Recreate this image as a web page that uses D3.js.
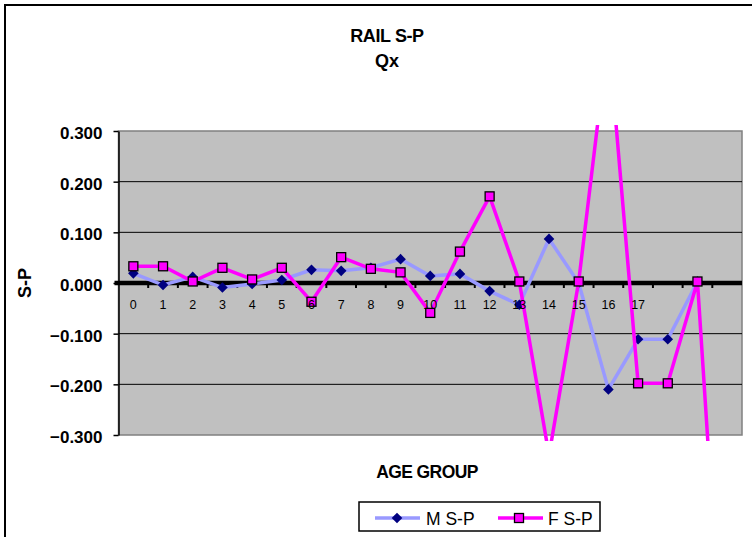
<!DOCTYPE html>
<html>
<head>
<meta charset="utf-8">
<script src="https://cdn.jsdelivr.net/npm/d3@7"></script>
<style>
  body { margin: 0; background: #fff; }
  svg { display: block; font-family: "Liberation Sans", Arial, sans-serif; }
</style>
</head>
<body>
<div id="chart"></div>
<script>
// ── data ────────────────────────────────────────
const categories = d3.range(21);
const catLabels = ["0","1","2","3","4","5","6","7","8","9","10","11","12","13","14","15","16","17","","",""];
const msp = [0.019, -0.004, 0.012, -0.009, -0.002, 0.006, 0.026, 0.024, 0.030, 0.047,
             0.014, 0.018, -0.016, -0.043, 0.087, 0.000, -0.210, -0.111, -0.111, 0.003];
const fsp = [0.033, 0.033, 0.003, 0.030, 0.007, 0.030, -0.037, 0.051, 0.028, 0.021,
             -0.059, 0.062, 0.171, 0.003, -0.340, 0.003, 0.490, -0.198, -0.198, 0.003, -0.900];
const yTicks = [-0.3, -0.2, -0.1, 0, 0.1, 0.2, 0.3];

const W = 752, H = 537;
const plot = { left: 118.5, right: 742, top: 131, bottom: 435 };
const FONT = "Liberation Sans, Arial, sans-serif";

const svg = d3.select("#chart").append("svg")
    .attr("width", W).attr("height", H);

// chart border (only left/top visible in the original)
svg.append("rect")
    .attr("x", 5).attr("y", 5).attr("width", W + 10).attr("height", H + 10)
    .attr("fill", "#fff").attr("stroke", "#000").attr("stroke-width", 2);

const x = d3.scaleBand().domain(categories).range([plot.left, plot.right]);
const cx = i => x(i) + x.bandwidth() / 2;
const y = d3.scaleLinear().domain([-0.3, 0.3]).range([plot.bottom, plot.top]);

// plot area
svg.append("rect")
    .attr("x", plot.left).attr("y", plot.top)
    .attr("width", plot.right - plot.left).attr("height", plot.bottom - plot.top)
    .attr("fill", "#C0C0C0").attr("stroke", "#808080").attr("stroke-width", 1.5);

// gridlines
svg.append("g").selectAll("line")
    .data(yTicks.filter(t => t !== 0 && t !== 0.3 && t !== -0.3))
    .join("line")
    .attr("x1", plot.left).attr("x2", plot.right)
    .attr("y1", d => y(d)).attr("y2", d => y(d))
    .attr("stroke", "#000").attr("stroke-width", 1);

// y axis
const yAxis = svg.append("g")
    .attr("transform", `translate(${plot.left},0)`)
    .call(d3.axisLeft(y).tickValues(yTicks).tickFormat(d3.format(".3f")).tickSize(5).tickSizeOuter(0));
yAxis.select(".domain").attr("stroke", "#000").attr("stroke-width", 1.5);
yAxis.selectAll(".tick line").attr("stroke", "#000").attr("stroke-width", 1.5);
yAxis.selectAll(".tick text")
    .attr("x", -16).attr("dy", "0.45em")
    .attr("font-size", 17).attr("font-weight", "bold").attr("fill", "#000")
    .attr("font-family", FONT);

// x axis at zero: thick line + small ticks at category boundaries
const xAxis = svg.append("g");
xAxis.selectAll("line.bt")
    .data(d3.range(1, categories.length))
    .join("line").attr("class", "bt")
    .attr("x1", d => x(d)).attr("x2", d => x(d))
    .attr("y1", y(0)).attr("y2", y(0) + 5)
    .attr("stroke", "#000").attr("stroke-width", 2);
xAxis.append("line")
    .attr("x1", plot.left - 4).attr("x2", plot.right)
    .attr("y1", y(0)).attr("y2", y(0))
    .attr("stroke", "#000").attr("stroke-width", 4.5);

// clip a little outside the plot area (as Excel does)
svg.append("clipPath").attr("id", "clip")
    .append("rect")
    .attr("x", plot.left - 6).attr("y", plot.top - 6)
    .attr("width", plot.right - plot.left + 12).attr("height", plot.bottom - plot.top + 12);

const line = d3.line().x((d, i) => cx(i)).y(d => y(d));
const series = svg.append("g").attr("clip-path", "url(#clip)");

series.append("path").datum(msp)
    .attr("d", line).attr("fill", "none")
    .attr("stroke", "#9999FF").attr("stroke-width", 3.5);
series.selectAll("path.dia").data(msp).join("path").attr("class", "dia")
    .attr("d", d3.symbol(d3.symbolDiamond2, 72))
    .attr("transform", (d, i) => `translate(${cx(i)},${y(d)})`)
    .attr("fill", "#000080");

series.append("path").datum(fsp)
    .attr("d", line).attr("fill", "none")
    .attr("stroke", "#FF00FF").attr("stroke-width", 3.5);
series.selectAll("rect.sq")
    .data(fsp.map((v, i) => ({ v, i })).filter(d => Math.abs(d.v) <= 0.3))
    .join("rect").attr("class", "sq")
    .attr("x", d => cx(d.i) - 4.5).attr("y", d => y(d.v) - 4.5)
    .attr("width", 9).attr("height", 9)
    .attr("fill", "#FF00FF").attr("stroke", "#000").attr("stroke-width", 1.3);

// category labels (drawn over the lines)
svg.append("g").selectAll("text")
    .data(categories)
    .join("text")
    .attr("x", d => cx(d)).attr("y", y(0) + 26)
    .attr("text-anchor", "middle")
    .attr("font-size", 12.5).attr("fill", "#000")
    .text(d => catLabels[d]);

// titles
svg.append("text").attr("x", 387).attr("y", 42).attr("text-anchor", "middle")
    .attr("font-size", 18).attr("font-weight", "bold").attr("letter-spacing", -0.4).text("RAIL S-P");
svg.append("text").attr("x", 387).attr("y", 67).attr("text-anchor", "middle")
    .attr("font-size", 18).attr("font-weight", "bold").text("Qx");
svg.append("text").attr("x", 427).attr("y", 478).attr("text-anchor", "middle")
    .attr("font-size", 17.5).attr("font-weight", "bold").attr("letter-spacing", -0.6).text("AGE GROUP");
svg.append("text")
    .attr("transform", `translate(31,${y(0)}) rotate(-90)`)
    .attr("text-anchor", "middle")
    .attr("font-size", 18).attr("font-weight", "bold").text("S-P");

// legend
const lg = svg.append("g");
lg.append("rect").attr("x", 359).attr("y", 502).attr("width", 241).attr("height", 29)
    .attr("fill", "#fff").attr("stroke", "#000").attr("stroke-width", 1.5);
lg.append("line").attr("x1", 375).attr("x2", 420).attr("y1", 518).attr("y2", 518)
    .attr("stroke", "#9999FF").attr("stroke-width", 3.5);
lg.append("path").attr("d", d3.symbol(d3.symbolDiamond2, 72))
    .attr("transform", "translate(397,518)").attr("fill", "#000080");
lg.append("text").attr("x", 426).attr("y", 525).attr("font-size", 17.5).text("M S-P");
lg.append("line").attr("x1", 498).attr("x2", 543).attr("y1", 518).attr("y2", 518)
    .attr("stroke", "#FF00FF").attr("stroke-width", 3.5);
lg.append("rect").attr("x", 514.5).attr("y", 513.5).attr("width", 9).attr("height", 9)
    .attr("fill", "#FF00FF").attr("stroke", "#000").attr("stroke-width", 1.3);
lg.append("text").attr("x", 548).attr("y", 525).attr("font-size", 17.5).text("F S-P");
</script>
</body>
</html>
